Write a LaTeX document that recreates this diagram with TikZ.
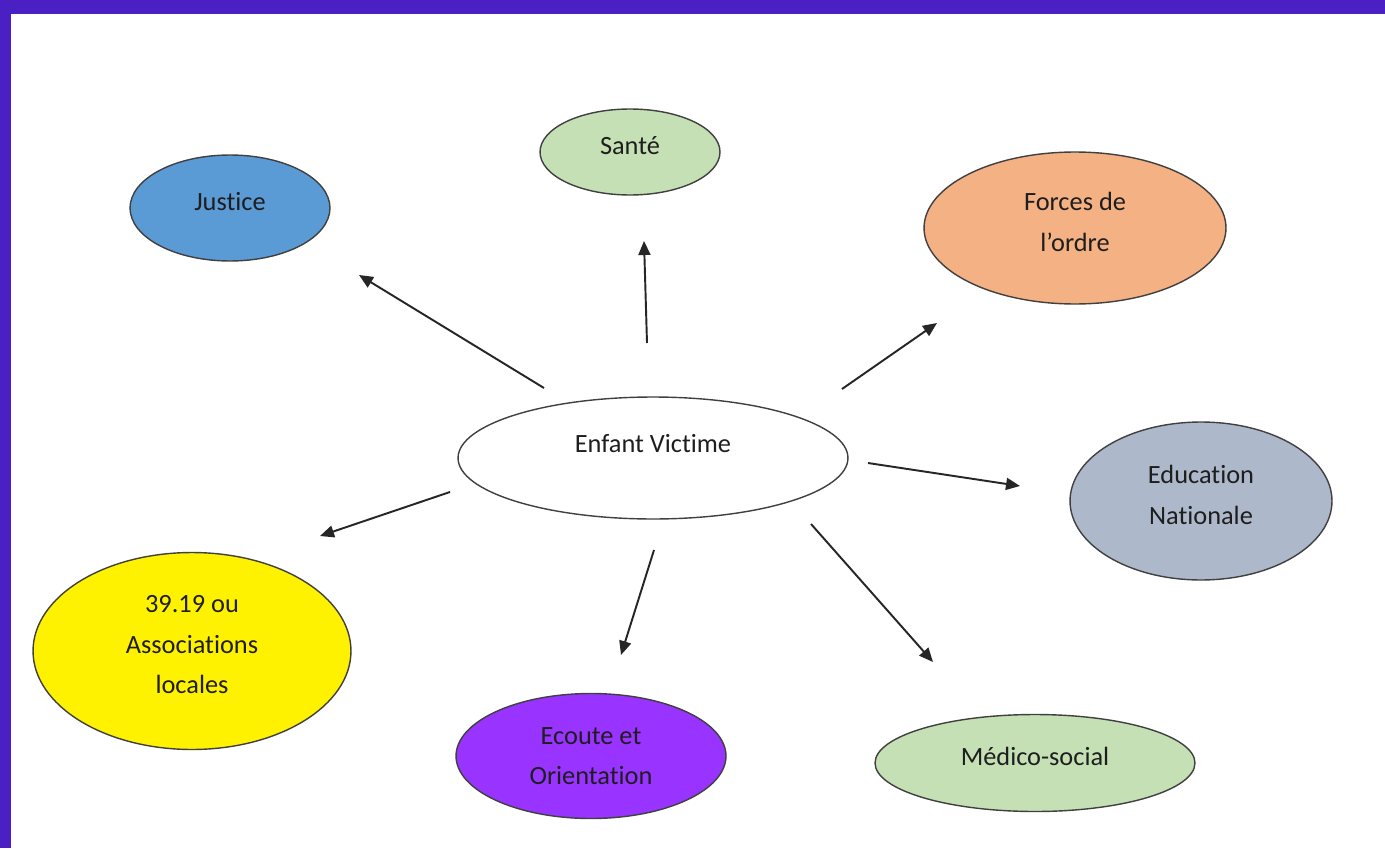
\documentclass[tikz,border=0pt]{standalone}
\usepackage{fontspec}
\setmainfont{Carlito}[Ligatures={NoCommon,NoContextual}, RawFeature={-liga;-clig;-dlig;-calt}]
\usepackage{tikz}
\usetikzlibrary{positioning,arrows.meta,shapes.geometric}
\usepackage{xcolor}
\definecolor{FrameBlue}{RGB}{74,32,196}
\definecolor{JusticeBlue}{RGB}{91,155,213}
\definecolor{SoftGreen}{RGB}{197,224,180}
\definecolor{SoftOrange}{RGB}{244,177,131}
\definecolor{SlateGray}{RGB}{173,185,202}
\definecolor{BrightPurple}{RGB}{153,51,255}
\definecolor{DarkText}{RGB}{30,30,30}

\begin{document}
\begin{tikzpicture}[
    x=0.02cm, y=-0.02cm,
    bubble/.style={ellipse, draw=black!75, line width=0.8pt, inner sep=0pt,
        align=center, font=\fontsize{15}{23}\selectfont, text=DarkText, text depth=0.25cm},
    link/.style={-{Triangle[length=0.28cm, width=0.24cm]}, line width=1.1pt, black!85},
]
% frame
\useasboundingbox (0,0) rectangle (1385,848);
\fill[FrameBlue] (0,0) rectangle (1385,848);
\fill[white] (11,14) rectangle (1385,848);

% centre
\node[bubble, fill=white, minimum width=7.8cm, minimum height=2.44cm, text depth=0.6cm] (enfant) at (653,458) {Enfant Victime};

% partners
\node[bubble, fill=JusticeBlue, minimum width=4cm, minimum height=2.12cm] (justice) at (230,208) {Justice};
\node[bubble, fill=SoftGreen, minimum width=3.6cm, minimum height=1.72cm] (sante) at (630,152) {Santé};
\node[bubble, fill=SoftOrange, minimum width=6.04cm, minimum height=3.04cm] (forces) at (1075,228) {Forces de\\l’ordre};
\node[bubble, fill=SlateGray, minimum width=5.24cm, minimum height=3.16cm] (education) at (1201,501) {Education\\Nationale};
\node[bubble, fill=SoftGreen, minimum width=6.4cm, minimum height=1.94cm] (medico) at (1035,763) {Médico-social};
\node[bubble, fill=BrightPurple, minimum width=5.4cm, minimum height=2.5cm, text depth=0pt] (ecoute) at (591,756) {Ecoute et\\Orientation};
\node[bubble, fill=yellow, minimum width=6.36cm, minimum height=3.94cm] (assoc) at (192,651) {39.19 ou\\Associations\\locales};

% arrow ends
\coordinate (justiceA) at (544,388);  \coordinate (justiceB) at (359,275);
\coordinate (santeA) at (647,343);    \coordinate (santeB) at (644,241);
\coordinate (forcesA) at (842,389);   \coordinate (forcesB) at (937,323);
\coordinate (educA) at (868,463);     \coordinate (educB) at (1020,486);
\coordinate (medicoA) at (811,524);   \coordinate (medicoB) at (933,662);
\coordinate (ecouteA) at (654,550);   \coordinate (ecouteB) at (621,655);
\coordinate (assocA) at (450,492);    \coordinate (assocB) at (320,536);

\draw[link] (justiceA) -- (justiceB);
\draw[link] (santeA) -- (santeB);
\draw[link] (forcesA) -- (forcesB);
\draw[link] (educA) -- (educB);
\draw[link] (medicoA) -- (medicoB);
\draw[link] (ecouteA) -- (ecouteB);
\draw[link] (assocA) -- (assocB);
\end{tikzpicture}
\end{document}
